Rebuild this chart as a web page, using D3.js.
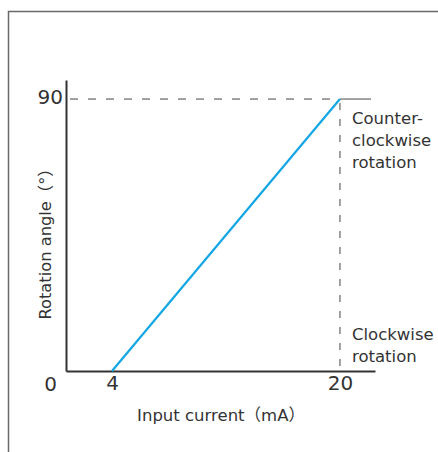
<!DOCTYPE html>
<html>
<head>
<meta charset="utf-8">
<script src="https://cdn.jsdelivr.net/npm/d3@7"></script>
<style>
  html, body { margin: 0; padding: 0; background: #fff; }
  svg { display: block; }
  text { font-family: "DejaVu Sans", "Noto Sans CJK JP", sans-serif; fill: #333; }
</style>
</head>
<body>
<div id="chart"></div>
<script>
// ---- data ----
const currentMA = [4, 20];          // input current (mA)
const angleDeg  = [0, 90];          // rotation angle (°)
const xTickValues = [4, 20];
const yTickValues = [90];
const originLabel = "0";
const xTitle = "Input current（mA）";
const yTitle = "Rotation angle（°）";
const upperNote = ["Counter-", "clockwise", "rotation"];
const lowerNote = ["Clockwise", "rotation"];

// ---- layout ----
const W = 438, H = 452;
const svg = d3.select("#chart").append("svg").attr("width", W).attr("height", H);

// frame
svg.append("path")
  .attr("d", `M8.5,${H + 5}V11.5H${W + 5}`)
  .attr("fill", "none").attr("stroke", "#6a6a6a").attr("stroke-width", 1.5);

const x = d3.scaleLinear().domain([0.77, 22.46]).range([66, 375]);
const y = d3.scaleLinear().domain([0, 96.3]).range([371, 80]);

// x axis
const xAxis = svg.append("g").attr("transform", `translate(0,${y(0)})`)
  .call(d3.axisBottom(x).tickValues(xTickValues).tickSize(0).tickPadding(5).tickFormat(d3.format("d")));
xAxis.select(".domain").attr("stroke", "#333").attr("stroke-width", 2);
xAxis.selectAll("text").attr("font-size", 20).attr("fill", "#333").attr("font-family", null);

// y axis
const yAxis = svg.append("g").attr("transform", `translate(${x.range()[0]},0)`)
  .call(d3.axisLeft(y).tickValues(yTickValues).tickSize(0).tickPadding(3));
yAxis.select(".domain").attr("stroke", "#333").attr("stroke-width", 2);
yAxis.selectAll("text").attr("font-size", 20).attr("fill", "#333").attr("font-family", null)
  .attr("dy", "0.2em");

// origin label
svg.append("text").attr("x", 50.5).attr("y", y(0) + 20)
  .attr("text-anchor", "middle").attr("font-size", 20).text(originLabel);

// guide lines
const x20 = x(currentMA[1]), y90 = y(angleDeg[1]);
svg.append("line").attr("x1", x.range()[0] + 4).attr("x2", x20).attr("y1", y90).attr("y2", y90)
  .attr("stroke", "#444").attr("stroke-width", 1).attr("stroke-dasharray", "8,10");
svg.append("line").attr("x1", x20).attr("x2", x20).attr("y1", y90 + 4).attr("y2", y(0))
  .attr("stroke", "#444").attr("stroke-width", 1).attr("stroke-dasharray", "7,9");
svg.append("line").attr("x1", x20).attr("x2", x.range()[1] - 4).attr("y1", y90).attr("y2", y90)
  .attr("stroke", "#666").attr("stroke-width", 1.2);

// data line
const pts = currentMA.map((c, i) => [c, angleDeg[i]]);
svg.append("path").datum(pts)
  .attr("d", d3.line().x(d => x(d[0])).y(d => y(d[1])))
  .attr("fill", "none").attr("stroke", "#12a6e4").attr("stroke-width", 2.2);

// titles
svg.append("text").attr("x", 221).attr("y", 421).attr("text-anchor", "middle")
  .attr("font-size", 16.5).text(xTitle);
svg.append("text").attr("transform", `translate(51,240) rotate(-90)`).attr("text-anchor", "middle")
  .attr("font-size", 16.3).text(yTitle);

// notes
svg.append("text").attr("x", 352).attr("y", 124).attr("font-size", 16.5)
  .selectAll("tspan").data(upperNote).join("tspan")
  .attr("x", 352).attr("dy", (d, i) => i ? 22 : 0).text(d => d);
svg.append("text").attr("x", 352).attr("y", 339.5).attr("font-size", 16.5)
  .selectAll("tspan").data(lowerNote).join("tspan")
  .attr("x", 352).attr("dy", (d, i) => i ? 22 : 0).text(d => d);
</script>
</body>
</html>
